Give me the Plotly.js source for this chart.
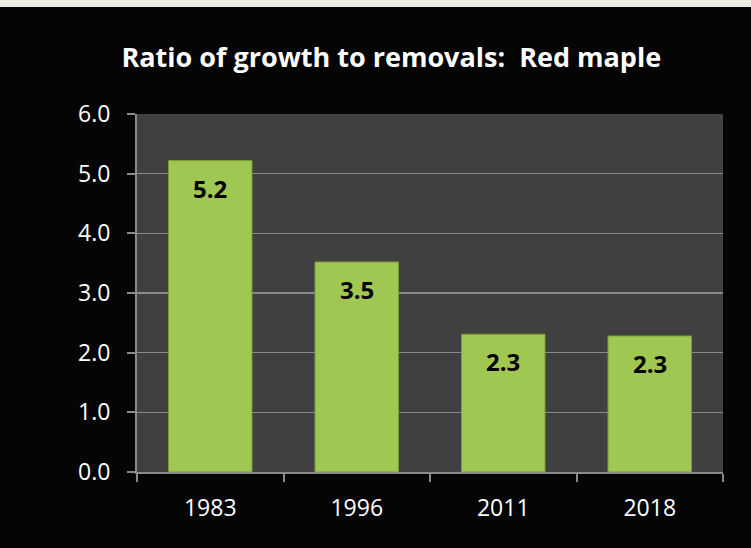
<!DOCTYPE html>
<html>
<head>
<meta charset="utf-8">
<script src="https://cdn.plot.ly/plotly-3.0.1.min.js"></script>
<style>
html,body{margin:0;padding:0;background:#EDEAE0;width:751px;height:548px;overflow:hidden;}
#chart{position:absolute;left:0;top:7px;width:751px;height:541px;background:#050505;}
</style>
</head>
<body>
<div id="chart"></div>
<script>
const years = ['1983', '1996', '2011', '2018'];
const ratios = [5.22, 3.52, 2.31, 2.28];
const yTicks = [0, 1, 2, 3, 4, 5, 6];
const chartTitle = 'Ratio of growth to removals:\u00a0 Red maple';

const font = 'Open Sans, Lato, sans-serif';

const trace = {
  type: 'bar',
  x: years,
  y: ratios,
  marker: {
    color: '#a0c751',
    line: {color: '#7a9a36', width: 1}
  },
  hoverinfo: 'x+y'
};

const annotations = years.map((yr, i) => ({
  x: i,
  y: ratios[i],
  xref: 'x',
  yref: 'y',
  text: '<b>' + ratios[i].toFixed(1) + '</b>',
  showarrow: false,
  yanchor: 'top',
  yshift: -9,
  font: {family: font, size: 24, color: '#000000'}
}));

const layout = {
  width: 751,
  height: 541,
  paper_bgcolor: '#050505',
  plot_bgcolor: '#404040',
  margin: {l: 137, r: 28, t: 107, b: 76},
  bargap: 0.43,
  showlegend: false,
  title: {
    text: '<b>' + chartTitle + '</b>',
    font: {family: font, size: 27, color: '#ffffff'},
    x: 0.521,
    xanchor: 'center',
    y: 0.907,
    yanchor: 'middle',
    yref: 'container'
  },
  xaxis: {
    type: 'category',
    categoryarray: years,
    range: [-0.5, years.length - 0.5],
    tickson: 'boundaries',
    ticks: 'outside',
    ticklen: 8,
    tickwidth: 2,
    tickcolor: '#8a8a8a',
    showline: true,
    linecolor: '#8a8a8a',
    linewidth: 2,
    showgrid: false,
    tickangle: 0,
    tickfont: {family: font, size: 23, color: '#ffffff'},
    ticklabelstandoff: 14
  },
  yaxis: {
    range: [0, 6],
    tickvals: yTicks,
    tickformat: '.1f',
    ticks: 'outside',
    ticklen: 8,
    tickwidth: 2,
    tickcolor: '#8a8a8a',
    showline: true,
    linecolor: '#8a8a8a',
    linewidth: 2,
    showgrid: true,
    gridcolor: '#8a8a8a',
    gridwidth: 1.5,
    zeroline: false,
    tickfont: {family: font, size: 23, color: '#ffffff'},
    ticklabelstandoff: 12
  },
  annotations: annotations
};

Plotly.newPlot('chart', [trace], layout, {displayModeBar: false, staticPlot: true});
</script>
</body>
</html>
